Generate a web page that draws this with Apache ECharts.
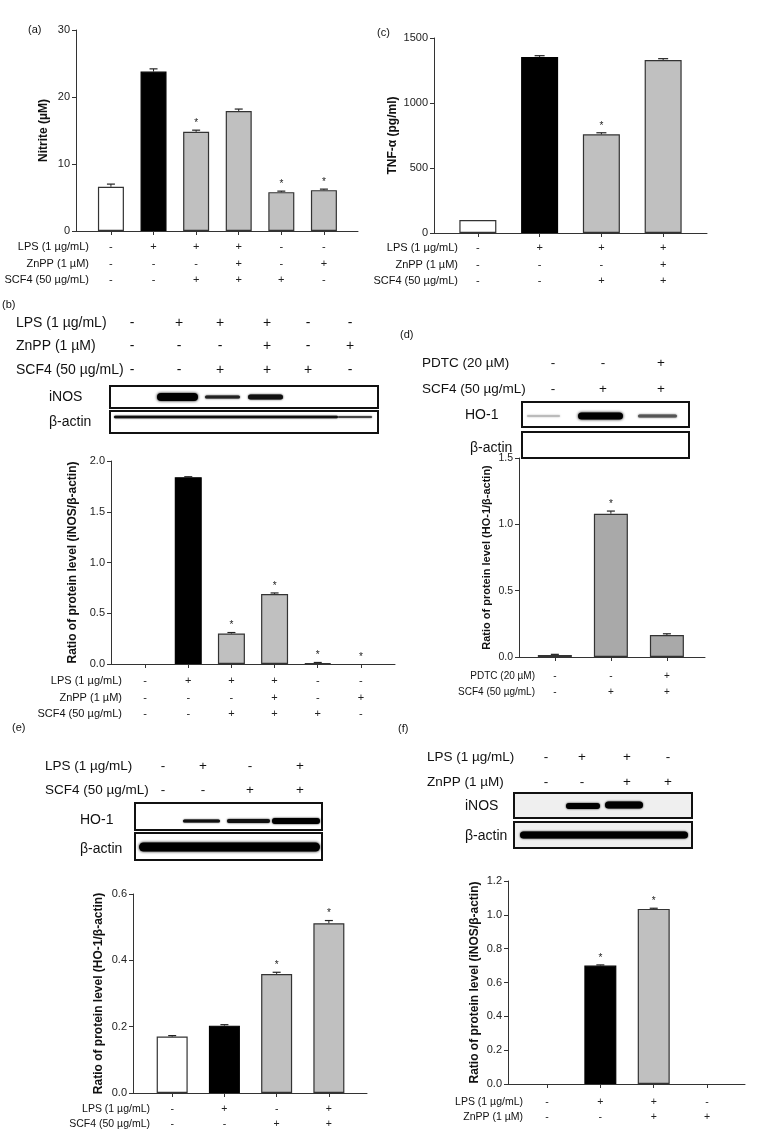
<!DOCTYPE html>
<html><head><meta charset="utf-8">
<script src="https://cdn.jsdelivr.net/npm/echarts@6/dist/echarts.min.js"></script>
<style>html,body{margin:0;padding:0;background:#fff}#c{width:760px;height:1132px}</style>
</head><body><div id="c"></div>
<script>
// ---------- DATA ----------
// (a) Nitrite
const aValues = [6.6, 23.8, 14.8, 17.9, 5.8, 6.1];
const aErrors = [0.4, 0.4, 0.25, 0.3, 0.15, 0.15];
const aStars  = [0, 0, 1, 0, 1, 1];
const aYTicks = [0, 10, 20, 30];
const aLPS  = ['-', '+', '+', '+', '-', '-'];
const aZnPP = ['-', '-', '-', '+', '-', '+'];
const aSCF4 = ['-', '-', '+', '+', '+', '-'];
// (c) TNF-alpha
const cValues = [100, 1354, 759, 1331];
const cErrors = [0, 10, 12, 10];
const cStars  = [0, 0, 1, 0];
const cYTicks = [0, 500, 1000, 1500];
const cLPS  = ['-', '+', '+', '+'];
const cZnPP = ['-', '-', '-', '+'];
const cSCF4 = ['-', '-', '+', '+'];
// (b) iNOS / beta-actin
const bValues = [0, 1.84, 0.30, 0.69, 0.01, 0];
const bErrors = [0, 0.005, 0.01, 0.01, 0.005, 0];
const bStars  = [0, 0, 1, 1, 1, 1];
const bYTicks = [0, 0.5, 1.0, 1.5, 2.0];
const bLPS  = ['-', '+', '+', '+', '-', '-'];
const bZnPP = ['-', '-', '-', '+', '-', '+'];
const bSCF4 = ['-', '-', '+', '+', '+', '-'];
// (d) HO-1 / beta-actin
const dValues = [0.015, 1.08, 0.165];
const dErrors = [0.005, 0.02, 0.01];
const dStars  = [0, 1, 0];
const dYTicks = [0, 0.5, 1.0, 1.5];
const dPDTC = ['-', '-', '+'];
const dSCF4 = ['-', '+', '+'];
// (e) HO-1 / beta-actin
const eValues = [0.170, 0.203, 0.359, 0.512];
const eErrors = [0.003, 0.003, 0.005, 0.008];
const eStars  = [0, 0, 1, 1];
const eYTicks = [0, 0.2, 0.4, 0.6];
const eLPS  = ['-', '+', '-', '+'];
const eSCF4 = ['-', '-', '+', '+'];
// (f) iNOS / beta-actin
const fValues = [0, 0.70, 1.035, 0];
const fErrors = [0, 0.004, 0.004, 0];
const fStars  = [0, 1, 1, 0];
const fYTicks = [0, 0.2, 0.4, 0.6, 0.8, 1.0, 1.2];
const fLPS  = ['-', '+', '+', '-'];
const fZnPP = ['-', '-', '+', '+'];

// ---------- STYLE / LAYOUT ----------
const FONT = '"Liberation Sans", Arial, Helvetica, sans-serif';
const W = '#ffffff', K = '#000000', G = '#c0c0c0', D = '#a9a9a9';
const AX = '#333333';

const panels = [
  {values:aValues, errors:aErrors, stars:aStars, yTicks:aYTicks, dec:0, name:'Nitrite (µM)',
   rows:[['LPS (1 µg/mL)',aLPS],['ZnPP (1 µM)',aZnPP],['SCF4 (50 µg/mL)',aSCF4]],
   fills:[W,K,G,G,G,G], left:76, top:30, width:282, height:201, lead:0.82, trail:0.8, barW:26,
   rowOff:16, rowH:16.5, rowRight:89, rowFs:11, nameGap:26, fs:11, nameFs:12, cap:4},
  {values:cValues, errors:cErrors, stars:cStars, yTicks:cYTicks, dec:0, name:'TNF-α (pg/ml)',
   rows:[['LPS (1 µg/mL)',cLPS],['ZnPP (1 µM)',cZnPP],['SCF4 (50 µg/mL)',cSCF4]],
   fills:[W,K,G,G], left:434, top:38, width:273, height:195, lead:0.71, trail:0.71, barW:37,
   rowOff:15, rowH:16.5, rowRight:458, rowFs:11, nameGap:35, fs:11, nameFs:12, cap:5},
  {values:bValues, errors:bErrors, stars:bStars, yTicks:bYTicks, dec:1, name:'Ratio of protein level (iNOS/β-actin)',
   rows:[['LPS (1 µg/mL)',bLPS],['ZnPP (1 µM)',bZnPP],['SCF4 (50 µg/mL)',bSCF4]],
   fills:[W,K,G,G,G,G], left:111, top:461, width:284, height:203, lead:0.79, trail:0.79, barW:27,
   rowOff:17, rowH:16.5, rowRight:122, rowFs:11, nameGap:32, fs:11, nameFs:12, cap:4},
  {values:dValues, errors:dErrors, stars:dStars, yTicks:dYTicks, dec:1, name:'Ratio of protein level (HO-1/β-actin)',
   rows:[['PDTC (20 µM)',dPDTC],['SCF4 (50 µg/mL)',dSCF4]],
   fills:[D,D,D], left:519, top:458, width:186, height:199, lead:0.64, trail:0.68, barW:34,
   rowOff:19, rowH:16, rowRight:535, rowFs:10, nameGap:27, fs:10.5, nameFs:11, cap:4},
  {values:eValues, errors:eErrors, stars:eStars, yTicks:eYTicks, dec:1, name:'Ratio of protein level (HO-1/β-actin)',
   rows:[['LPS (1 µg/mL)',eLPS],['SCF4 (50 µg/mL)',eSCF4]],
   fills:[W,K,G,G], left:133, top:894, width:234, height:199, lead:0.75, trail:0.73, barW:31,
   rowOff:16, rowH:15, rowRight:150, rowFs:10.5, nameGap:28, fs:11, nameFs:12, cap:4},
  {values:fValues, errors:fErrors, stars:fStars, yTicks:fYTicks, dec:1, name:'Ratio of protein level (iNOS/β-actin)',
   rows:[['LPS (1 µg/mL)',fLPS],['ZnPP (1 µM)',fZnPP]],
   fills:[W,K,G,W], left:508, top:881, width:237, height:203, lead:0.73, trail:0.71, barW:32,
   rowOff:18, rowH:15, rowRight:523, rowFs:10.5, nameGap:27, fs:11, nameFs:12, cap:4}
];

const grid = [], xAxis = [], yAxis = [], series = [], graphic = [];

function txt(x, y, text, size, opts) {
  return Object.assign({type:'text', silent:true, x:x, y:y,
    style:Object.assign({text:text, fontSize:size, fontFamily:FONT, fill:'#111', verticalAlign:'middle'}, opts||{})});
}

panels.forEach((p, gi) => {
  const n = p.values.length;
  const idx = p.values.map((_, i) => i);
  grid.push({left:p.left, top:p.top, width:p.width, height:p.height, containLabel:false});
  xAxis.push({
    type:'value', gridIndex:gi, min:-p.lead, max:n - 1 + p.trail,
    splitLine:{show:false},
    axisLine:{show:true, onZero:false, lineStyle:{color:AX, width:1}},
    axisTick:{show:true, customValues:idx, length:4, lineStyle:{color:AX}},
    axisLabel:{show:true, customValues:idx, fontSize:p.rowFs, fontFamily:FONT, color:'#222',
      lineHeight:p.rowH, margin:p.rowOff - p.rowH / 2, verticalAlign:'top',
      formatter:v => p.rows.map(r => r[1][Math.round(v)]).join('\n')}
  });
  const yt = p.yTicks;
  yAxis.push({
    type:'value', gridIndex:gi, min:yt[0], max:yt[yt.length - 1], interval:yt[1] - yt[0],
    splitLine:{show:false},
    axisLine:{show:true, onZero:false, lineStyle:{color:AX, width:1}},
    axisTick:{show:true, length:4, lineStyle:{color:AX}},
    axisLabel:{fontSize:p.fs, fontFamily:FONT, color:'#222', margin:6,
      formatter:v => Number(v).toFixed(p.dec)},
    name:p.name, nameLocation:'middle', nameGap:p.nameGap,
    nameTextStyle:{fontSize:p.nameFs, fontWeight:'bold', fontFamily:FONT, color:'#111'}
  });
  series.push({
    type:'bar', xAxisIndex:gi, yAxisIndex:gi, barWidth:p.barW, silent:true,
    data:p.values.map((v, i) => ({value:[i, v],
      itemStyle:{color:p.fills[i], borderColor:p.fills[i] === K ? '#000' : '#333', borderWidth:v > 0 ? 1.2 : 0}}))
  });
  series.push({
    type:'custom', xAxisIndex:gi, yAxisIndex:gi, silent:true, z:5,
    encode:{x:0, y:1},
    data:p.values.map((v, i) => [i, v, p.errors[i], p.stars[i]]),
    renderItem:(params, api) => {
      const x = api.value(0), v = api.value(1), e = api.value(2), s = api.value(3);
      const p0 = api.coord([x, v]), p1 = api.coord([x, v + e]);
      const ch = [];
      if (e > 0) {
        ch.push({type:'line', shape:{x1:p0[0], y1:p0[1], x2:p1[0], y2:p1[1]}, style:{stroke:'#222', lineWidth:1}});
        ch.push({type:'line', shape:{x1:p1[0] - p.cap, y1:p1[1], x2:p1[0] + p.cap, y2:p1[1]}, style:{stroke:'#222', lineWidth:1.2}});
      }
      if (s) ch.push({type:'text', style:{text:'*', x:p1[0], y:p1[1] - 2, align:'center', verticalAlign:'bottom',
        fontSize:10, fontFamily:FONT, fill:'#222'}});
      return {type:'group', children:ch};
    }
  });
  // row titles for the x-axis sign rows
  p.rows.forEach((r, ri) => {
    graphic.push(txt(p.rowRight, p.top + p.height + p.rowOff + ri * p.rowH, r[0], p.rowFs, {align:'right'}));
  });
});

// panel letters
[['(a)', 28, 30], ['(c)', 377, 33], ['(b)', 2, 305], ['(d)', 400, 335], ['(e)', 12, 728], ['(f)', 398, 729]]
  .forEach(l => graphic.push(txt(l[1], l[2], l[0], 11)));

// ---------- Western blot headers ----------
function header(x, y0, dy, lanes, rows, size) {
  rows.forEach((r, ri) => {
    const y = y0 + ri * dy;
    graphic.push(txt(x, y, r[0], size));
    r[1].forEach((s, li) => graphic.push(txt(lanes[li], y, s, size, {align:'center'})));
  });
}
header(16, 323, 23.5, [132, 179, 220, 267, 308, 350],
  [['LPS (1 µg/mL)', bLPS], ['ZnPP (1 µM)', bZnPP], ['SCF4 (50 µg/mL)', bSCF4]], 14);
header(422, 363, 26, [553, 603, 661], [['PDTC (20 µM)', dPDTC], ['SCF4 (50 µg/mL)', dSCF4]], 13.5);
header(45, 766, 24, [163, 203, 250, 300], [['LPS (1 µg/mL)', eLPS], ['SCF4 (50 µg/mL)', eSCF4]], 13.5);
header(427, 757, 25, [546, 582, 627, 668], [['LPS (1 µg/mL)', fLPS], ['ZnPP (1 µM)', fZnPP]], 13.5);

// ---------- Western blot images (drawn pictures) ----------
function box(x1, y1, x2, y2, fill) {
  graphic.push({type:'rect', silent:true, shape:{x:x1, y:y1, width:x2 - x1, height:y2 - y1},
    style:{fill:fill || '#fff', stroke:'#111', lineWidth:2}});
}
function bnd(x1, x2, y, h, color, blur) {
  graphic.push({type:'rect', silent:true, shape:{x:x1, y:y - h / 2, width:x2 - x1, height:h, r:h / 2},
    style:{fill:color, shadowBlur:blur, shadowColor:color}});
}
// (b)
graphic.push(txt(49, 397, 'iNOS', 14));
graphic.push(txt(49, 422, 'β-actin', 14));
box(110, 386, 378, 408);
bnd(157, 198, 397, 8, '#000', 3);
bnd(205, 240, 397, 3, '#222', 2);
bnd(248, 283, 397, 5, '#111', 2);
box(110, 411, 378, 433);
bnd(114, 338, 417, 2.5, '#111', 1.5);
bnd(338, 372, 417, 2, '#444', 1.5);
// (d)
graphic.push(txt(465, 415, 'HO-1', 14));
graphic.push(txt(470, 448, 'β-actin', 14));
box(522, 402, 689, 427);
bnd(527, 560, 416, 2, '#bbb', 2);
bnd(578, 623, 416, 7, '#000', 3);
bnd(638, 677, 416, 3, '#555', 2);
box(522, 432, 689, 458);
// (e)
graphic.push(txt(80, 820, 'HO-1', 14));
graphic.push(txt(80, 849, 'β-actin', 14));
box(135, 803, 322, 830);
bnd(183, 220, 821, 3, '#111', 1.5);
bnd(227, 270, 821, 4, '#111', 2);
bnd(272, 320, 821, 6, '#000', 2);
box(135, 833, 322, 860);
bnd(139, 320, 847, 9, '#000', 3);
// (f)
graphic.push(txt(465, 806, 'iNOS', 14));
graphic.push(txt(465, 836, 'β-actin', 14));
box(514, 793, 692, 818, '#efefef');
bnd(566, 600, 806, 6, '#000', 2);
bnd(605, 643, 805, 7, '#000', 2);
box(514, 822, 692, 848, '#efefef');
bnd(520, 688, 835, 7, '#000', 2);

const chart = echarts.init(document.getElementById('c'), null, {width:760, height:1132});
chart.setOption({animation:false, backgroundColor:'#fff', grid, xAxis, yAxis, series, graphic});
</script>
</body></html>
